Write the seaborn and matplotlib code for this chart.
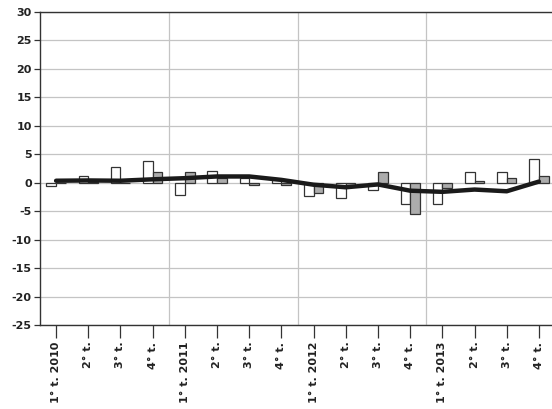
import pandas as pd
import matplotlib
matplotlib.use("Agg")
import matplotlib.pyplot as plt
import seaborn as sns

# quarterly labels and values
quarters = ["1° t. 2010", "2° t.", "3° t.", "4° t.",
            "1° t. 2011", "2° t.", "3° t.", "4° t.",
            "1° t. 2012", "2° t.", "3° t.", "4° t.",
            "1° t. 2013", "2° t.", "3° t.", "4° t."]
serie_a = [-0.5, 1.2, 2.8, 3.8, -2.2, 2.0, 0.9, 0.5,
           -2.3, -2.6, -1.2, -3.7, -3.7, 1.8, 1.8, 4.1]
serie_b = [0.0, 0.1, 0.0, 1.8, 1.8, 0.9, -0.4, -0.4,
           -1.8, -0.6, 1.8, -5.5, -0.9, 0.35, 0.8, 1.2]
trend = [0.35, 0.4, 0.35, 0.6, 0.8, 1.1, 1.1, 0.5,
         -0.35, -0.8, -0.3, -1.4, -1.6, -1.2, -1.5, 0.2]
y_ticks = list(range(-25, 31, 5))

sns.set_style("white")
plt.rcParams['font.family'] = ['DejaVu Sans']
plt.rcParams['axes.unicode_minus'] = False

n = len(quarters)
pos = list(range(n))
df = pd.DataFrame({
    "pos": pos * 2,
    "value": serie_a + serie_b,
    "serie": ["a"] * n + ["b"] * n,
})

fig = plt.figure(figsize=(5.52, 4.09), dpi=100)
ax = fig.add_axes([40 / 552, 84 / 409, 515 / 552, 313 / 409])

sns.barplot(data=df, x="pos", y="value", hue="serie", order=pos,
            palette={"a": "white", "b": "#acacac"}, width=0.6,
            edgecolor="#333333", linewidth=0.9, legend=False, ax=ax, zorder=3)
sns.lineplot(x=pos, y=trend, color="#1a1a1a", linewidth=3.2, ax=ax, zorder=4)

ax.set_xlim(-0.5, n - 0.5)
ax.set_ylim(-25, 30)
ax.set_yticks(y_ticks)
ax.set_xticks(pos)
ax.set_xticklabels(quarters, rotation=90, fontsize=8, fontweight="bold", color="#222222")
for lbl in ax.get_yticklabels():
    lbl.set_fontsize(8)
    lbl.set_fontweight("bold")
    lbl.set_color("#222222")
ax.set_xlabel("")
ax.set_ylabel("")

# grid: horizontal at every tick, vertical between years
for y in y_ticks:
    ax.axhline(y, color="#c4c4c4", linewidth=0.9, zorder=1)
for x in [3.5, 7.5, 11.5]:
    ax.axvline(x, color="#c4c4c4", linewidth=0.9, zorder=1)

ax.tick_params(axis="x", length=9, width=0.9, color="#333333", pad=3, bottom=True)
ax.tick_params(axis="y", length=4, width=0.9, color="#333333", pad=2, left=True)
for side in ["left", "bottom", "top"]:
    ax.spines[side].set_color("#333333")
    ax.spines[side].set_linewidth(1.0)
ax.spines["right"].set_visible(False)

fig.savefig("out.png", dpi=100)
